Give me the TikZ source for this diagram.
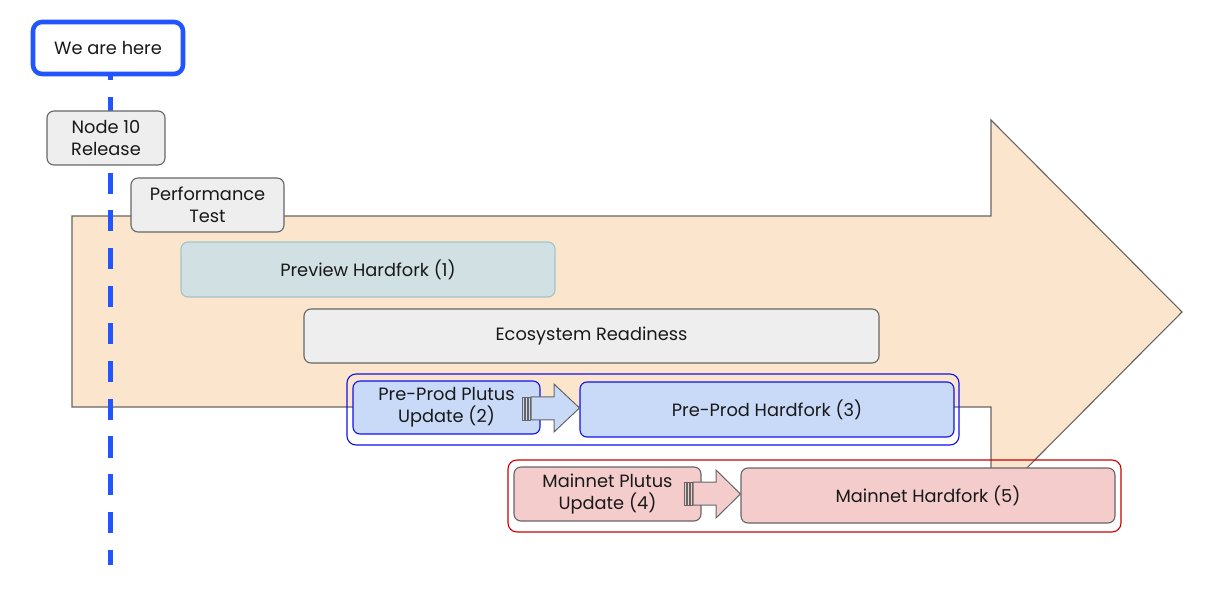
\documentclass[tikz,border=0pt]{standalone}
\usepackage{fontspec}
\setmainfont{Poppins}
\usetikzlibrary{calc}
\definecolor{peach}{HTML}{FCE5CD}
\definecolor{hereblue}{HTML}{2355FF}
\definecolor{greyfill}{HTML}{EEEEEE}
\definecolor{greyline}{HTML}{666666}
\definecolor{tealfill}{HTML}{D0E0E3}
\definecolor{tealline}{HTML}{A2C4C9}
\definecolor{bluefill}{HTML}{C9DAF8}
\definecolor{boxblue}{HTML}{1010F0}
\definecolor{redfill}{HTML}{F4CCCC}
\definecolor{boxred}{HTML}{CC0000}
\tikzset{
  box/.style={draw=greyline, line width=1.1pt, fill=greyfill, rounded corners=7pt,
    inner sep=0pt, align=center, font=\fontsize{17.8}{22}\selectfont, text=black!90},
  groupbox/.style={draw, line width=1.1pt, rounded corners=9pt, inner sep=0pt},
  stripe/.style={draw=greyline, line width=0.6pt},
  flowarrow/.style={draw=greyline, line width=1pt},
}
\begin{document}
\begin{tikzpicture}[x=1pt,y=-1pt]
\useasboundingbox (0,0) rectangle (1205,609);
% big timeline arrow
\draw[fill=peach, draw=greyline, line width=1.1pt]
  (72,216) -- (991,216) -- (991,120) -- (1182,312) -- (991,504) -- (991,407) -- (72,407) -- cycle;
% we-are-here marker line
\coordinate (lineTop) at (110.5,59.5);
\coordinate (lineEnd) at (110.5,565);
\draw[hereblue, line width=4.6pt, dash pattern=on 21pt off 16.7pt] (lineTop) -- (lineEnd);
% nodes
\node[box, draw=hereblue, line width=4.6pt, fill=white, rounded corners=9pt,
  minimum width=150pt, minimum height=52pt] (here) at (108,48) {We are here};
\node[box, minimum width=118pt, minimum height=54pt] (n10) at (106,138) {Node 10\\Release};
\node[box, minimum width=153pt, minimum height=54pt] (perf) at (207.5,205) {Performance\\Test};
\node[box, fill=tealfill, draw=tealline, minimum width=374pt, minimum height=55pt] (prev) at (368,269.5) {Preview Hardfork (1)};
\node[box, minimum width=575pt, minimum height=54pt] (eco) at (591.5,336) {Ecosystem Readiness};
% pre-prod group
\node[groupbox, draw=boxblue, minimum width=612pt, minimum height=71pt] (bluegrp) at (653,409.5) {};
\node[box, fill=bluefill, draw=boxblue, minimum width=187pt, minimum height=53pt] (pp2) at (446.5,407.5) {Pre-Prod Plutus\\Update (2)};
\node[box, fill=bluefill, draw=boxblue, minimum width=374pt, minimum height=55pt] (pp3) at (767,409.5) {Pre-Prod Hardfork (3)};
% striped arrow pp2 -> pp3
\foreach \sx in {522,525,528}{
  \draw[stripe, fill=bluefill] (\sx,397) rectangle ++(2,23);
}
\draw[flowarrow, fill=bluefill]
  (531,397) -- (554,397) -- (554,384) -- (pp3.west |- 0,408) -- (554,432) -- (554,420) -- (531,420) -- cycle;
% mainnet group
\node[groupbox, draw=boxred, minimum width=613pt, minimum height=72pt] (redgrp) at (814.5,496) {};
\node[box, fill=redfill, minimum width=187pt, minimum height=54pt] (m4) at (607.5,494) {Mainnet Plutus\\Update (4)};
\node[box, fill=redfill, minimum width=374pt, minimum height=55pt] (m5) at (928,495.5) {Mainnet Hardfork (5)};
\foreach \sx in {684,687,690}{
  \draw[stripe, fill=redfill] (\sx,482) rectangle ++(2,23);
}
\draw[flowarrow, fill=redfill]
  (693,482) -- (716,482) -- (716,470) -- (m5.west |- 0,494) -- (716,518) -- (716,505) -- (693,505) -- cycle;
\end{tikzpicture}
\end{document}
